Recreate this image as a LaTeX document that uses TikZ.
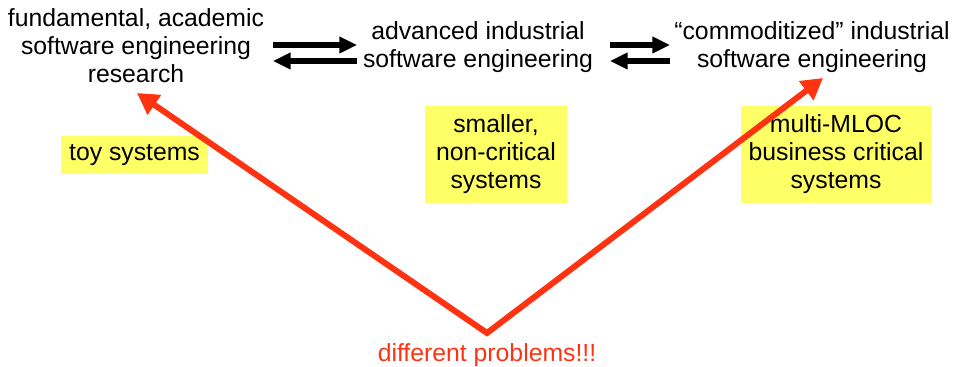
\documentclass[tikz,border=0pt]{standalone}
\usepackage{fontspec}
\setmainfont{Liberation Sans}
\usepackage{xcolor}
\usepackage{tikz}
\usetikzlibrary{arrows.meta}
\usetikzlibrary{positioning}
\definecolor{boxyellow}{HTML}{FFFF66}
\definecolor{probred}{HTML}{FF3311}
\tikzset{level/.style ={inner sep=0pt, align=center, font=\fontsize{14.1}{15.9}\selectfont}}
\tikzset{sysbox/.style ={level, fill=boxyellow}}
\tikzset{flow/.style ={line width=3.5pt, -{Triangle[length=10pt,width=9pt]}}}
\tikzset{problem/.style ={draw=probred, line width=3.4pt, -{Triangle[length=12pt,width=13pt]}, shorten <=-1pt}}

\begin{document}
\begin{tikzpicture}[x=0.02cm,y=-0.02cm]
\useasboundingbox (0,0) rectangle (962,367);
\node[level] (research) at (136,46) {fundamental, academic\\software engineering\\research};
\node[level] (advanced) at (478,47) {advanced industrial\\software engineering};
\node[level] (commodity) at (812,47) {``commoditized'' industrial\\software engineering};
\node[sysbox, minimum width=2.94cm, minimum height=0.76cm] (toy) at (134.5,155) {toy systems};
\node[sysbox, minimum width=2.86cm, minimum height=1.94cm] (small) at (496,154.5) {smaller,\\non-critical\\systems};
\node[sysbox, minimum width=3.82cm, minimum height=1.94cm] (mloc) at (836,154.5) {multi-MLOC\\business critical\\systems};
\node[level, text=probred] (problems) at (487,355) {different problems!!!};
\coordinate (v) at (487,333);
\coordinate (tl) at (137,93);
\coordinate (tr) at (823,78);
\coordinate (a1) at (273,45);  \coordinate (b1) at (357,45);
\coordinate (a2) at (357,61);  \coordinate (b2) at (273,61);
\coordinate (a3) at (610,45);  \coordinate (b3) at (670,45);
\coordinate (a4) at (670,61);  \coordinate (b4) at (610,61);
\draw[flow] (a1) -- (b1);
\draw[flow] (a2) -- (b2);
\draw[flow] (a3) -- (b3);
\draw[flow] (a4) -- (b4);
\draw[problem] (v) -- (tl);
\draw[problem] (v) -- (tr);
\end{tikzpicture}
\end{document}
